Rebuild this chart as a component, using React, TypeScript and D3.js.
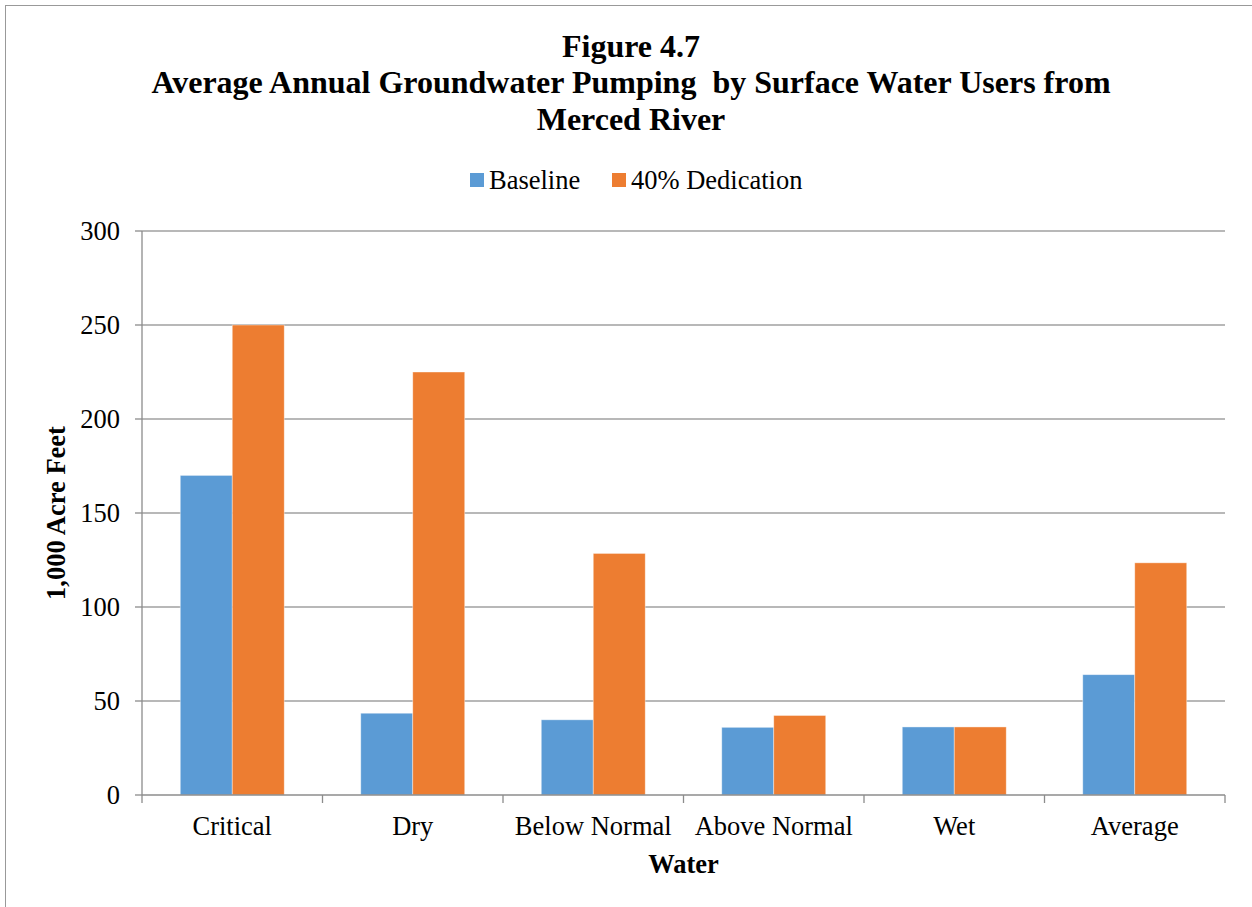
import React from "react";
import * as d3 from "d3";

const categories = ["Critical", "Dry", "Below Normal", "Above Normal", "Wet", "Average"];
const seriesNames = ["Baseline", "40% Dedication"];
const baselineValues = [170, 43.5, 40, 36, 36.2, 64];
const dedicationValues = [250, 225, 128.5, 42.3, 36.2, 123.5];
const yTicks = [0, 50, 100, 150, 200, 250, 300];
const colors = ["#5B9BD5", "#ED7D31"];

const W = 1252;
const H = 907;
const margin = { left: 142, right: 27, top: 231, bottom: 112 };
const FONT = "'Liberation Serif', 'Times New Roman', serif";
const FS = 26.5;

export default function App() {
  const x = d3
    .scaleBand<string>()
    .domain(categories)
    .range([margin.left, W - margin.right])
    .paddingInner(0.424)
    .paddingOuter(0.212);
  const xOuter = d3.scaleBand<string>().domain(categories).range([margin.left, W - margin.right]);
  const y = d3.scaleLinear().domain([0, 300]).range([H - margin.bottom, margin.top]);
  const sub = d3.scaleBand<number>().domain([0, 1]).range([0, x.bandwidth()]);
  const series = [baselineValues, dedicationValues];
  const x0 = margin.left;
  const x1 = W - margin.right;
  const y0 = y(0);
  const tickEdges = categories.map((c) => xOuter(c) as number).concat([x1]);

  return (
    <div style={{ position: "absolute", left: 0, top: 0 }}>
      <svg width={W} height={H} style={{ display: "block", background: "#fff" }}>
        <rect x={5.5} y={5.5} width={W + 20} height={H + 20} fill="none" stroke="#999" strokeWidth={1} />
        <g fontFamily={FONT} fontWeight="bold" fontSize={32} textAnchor="middle" fill="#000">
          <text x={631} y={57}>Figure 4.7</text>
          <text x={631} y={93} xmlSpace="preserve" style={{ whiteSpace: "pre" }}>
            {"Average Annual Groundwater Pumping  by Surface Water Users from"}
          </text>
          <text x={631} y={130}>Merced River</text>
        </g>
        {/* legend */}
        <g fontFamily={FONT} fontSize={FS} fill="#000">
          <rect x={470} y={173} width={14} height={14} fill={colors[0]} />
          <text x={489} y={189}>{seriesNames[0]}</text>
          <rect x={612} y={173} width={14} height={14} fill={colors[1]} />
          <text x={631} y={189}>{seriesNames[1]}</text>
        </g>
        {/* gridlines */}
        {yTicks.filter((t) => t > 0).map((t) => (
          <line key={t} x1={x0} x2={x1} y1={y(t)} y2={y(t)} stroke="#A0A0A0" strokeWidth={1.3} />
        ))}
        {/* bars */}
        {series.map((vals, si) =>
          categories.map((c, i) => (
            <rect
              key={c + si}
              x={(x(c) as number) + (sub(si) as number)}
              y={y(vals[i])}
              width={sub.bandwidth()}
              height={y0 - y(vals[i])}
              fill={colors[si]}
              stroke="#fff"
              strokeOpacity={0.5}
              strokeWidth={0.8}
            />
          ))
        )}
        {/* axes */}
        <line x1={x0} x2={x0} y1={margin.top} y2={y0} stroke="#8C8C8C" strokeWidth={1.3} />
        <line x1={x0} x2={x1} y1={y0} y2={y0} stroke="#8C8C8C" strokeWidth={1.3} />
        {yTicks.map((t) => (
          <line key={"yt" + t} x1={x0 - 7} x2={x0} y1={y(t)} y2={y(t)} stroke="#8C8C8C" strokeWidth={1.3} />
        ))}
        {tickEdges.map((e, i) => (
          <line key={"xt" + i} x1={e} x2={e} y1={y0} y2={y0 + 8} stroke="#8C8C8C" strokeWidth={1.3} />
        ))}
        <g fontFamily={FONT} fontSize={FS} fill="#000">
          {yTicks.map((t) => (
            <text key={"yl" + t} x={120} y={y(t) + 9} textAnchor="end">{t}</text>
          ))}
          {categories.map((c) => (
            <text key={"xl" + c} x={(xOuter(c) as number) + xOuter.bandwidth() / 2} y={835} textAnchor="middle">
              {c}
            </text>
          ))}
        </g>
        <text x={(x0 + x1) / 2} y={873} textAnchor="middle" fontFamily={FONT} fontSize={FS} fontWeight="bold">
          Water
        </text>
        <text
          transform={`translate(65, ${(margin.top + y0) / 2}) rotate(-90)`}
          textAnchor="middle"
          fontFamily={FONT}
          fontSize={FS}
          fontWeight="bold"
        >
          1,000 Acre Feet
        </text>
      </svg>
    </div>
  );
}
